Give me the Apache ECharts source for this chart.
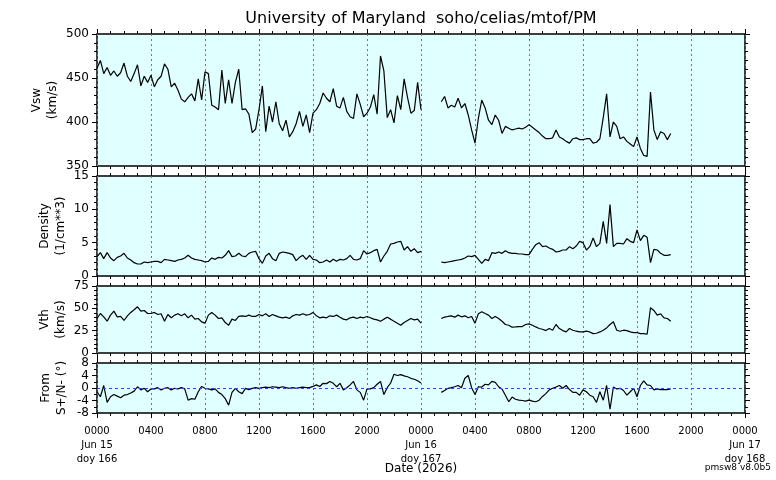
<!DOCTYPE html>
<html>
<head>
<meta charset="utf-8">
<script src="https://cdn.jsdelivr.net/npm/echarts@6/dist/echarts.min.js"></script>
<style>
  html, body { margin: 0; padding: 0; background: #fff; }
  #main { width: 776px; height: 480px; }
</style>
</head>
<body>
<div id="main"></div>
<script>
// time grid: hours since 0000 Jun 15, one sample every 15 min
const seg1Start = 0;
const seg2Start = 25.5;
const step = 0.25;

const xTickLabels = ['0000\nJun 15\ndoy 166', '0400', '0800', '1200', '1600', '2000',
  '0000\nJun 16\ndoy 167', '0400', '0800', '1200', '1600', '2000', '0000\nJun 17\ndoy 168'];

// solar wind speed (km/s)
const vsw1 = [461,470,455,462,453,458,452,456,467,452,
  446,455,465,441,452,445,453,440,448,452,
  466,460,440,444,436,426,423,428,432,424,
  449,425,457,455,419,417,414,459,421,448,
  421,445,460,414,415,409,388,392,414,441,
  389,418,400,423,398,390,402,383,389,398,
  412,395,408,388,410,414,421,433,427,423,
  438,418,416,428,412,406,404,432,420,406,
  410,417,431,409,475,458,405,414,399,430,
  414,449,428,410,413,445,414];
const vsw2 = [423,429,416,419,417,427,416,421,408,391,
  376,404,425,416,402,397,408,402,387,395,
  393,391,392,393,392,394,397,394,391,388,
  384,381,381,382,391,383,381,378,376,381,
  382,380,380,381,381,376,377,381,405,432,
  383,400,395,381,383,378,375,372,383,370,
  362,361,434,391,380,389,387,380,387];

// proton density (1/cm**3)
const dens1 = [2.9,3.5,2.6,3.5,2.7,2.3,2.8,3.0,3.4,2.7,
  2.4,2.0,1.8,1.8,2.1,2.0,2.1,2.2,2.2,2.0,
  2.5,2.4,2.3,2.2,2.4,2.5,2.7,3.1,2.7,2.5,
  2.4,2.3,2.1,2.2,2.7,2.5,2.8,2.7,3.1,3.8,
  2.9,3.0,3.4,3.0,2.9,3.4,3.6,3.7,2.6,1.9,
  3.0,3.4,2.6,2.3,3.4,3.6,3.5,3.4,3.2,2.3,
  2.8,3.1,2.5,3.1,2.5,2.4,2.0,2.1,2.4,2.1,
  2.5,2.2,2.5,2.4,2.6,3.1,2.5,2.4,2.6,3.8,
  3.3,3.5,3.8,4.0,2.1,3.0,3.7,4.8,4.9,5.1,
  5.2,3.9,4.4,3.7,4.1,3.5,3.7];
const dens2 = [2.1,2.0,2.1,2.2,2.3,2.4,2.5,2.7,3.0,2.9,
  3.1,2.5,1.9,2.5,2.3,3.5,3.4,3.6,3.4,3.8,
  3.5,3.4,3.4,3.3,3.3,3.2,3.2,4.0,4.7,5.0,
  4.4,4.5,4.2,4.0,3.6,3.7,3.9,3.9,4.4,4.1,
  4.5,5.2,5.0,3.9,4.4,5.7,4.4,4.9,8.2,4.9,
  10.7,4.4,4.9,4.9,4.8,5.6,5.2,5.0,6.9,5.3,
  6.1,5.8,2.0,4.0,3.9,3.4,3.1,3.1,3.2];

// thermal speed (km/s)
const vth1 = [38.6,44.2,40.5,35.6,42.4,46.9,40.5,40.9,36.4,41.6,
  45.4,48.4,51.7,46.9,47.6,44.2,44.2,45.4,43.1,43.9,
  35.6,43.1,39.4,42.4,43.9,41.6,43.9,39.4,42.4,37.9,
  38.6,34.9,33.4,42.4,45.4,42.4,38.6,39.4,34.1,31.1,
  37.9,36.4,40.9,41.6,40.9,42.4,40.9,40.9,43.1,41.6,
  43.9,40.9,43.1,41.6,40.1,39.4,40.1,38.6,41.6,43.1,
  42.4,43.9,42.4,43.1,45.4,41.6,39.4,40.1,39.4,41.6,
  40.9,42.4,40.1,37.9,37.1,39.4,40.1,38.6,40.1,39.4,
  40.9,39.4,37.9,37.1,35.6,37.9,40.1,37.9,35.6,33.4,
  31.1,34.1,36.4,38.6,37.1,37.9,33.4];
const vth2 = [38.6,40.1,40.9,41.6,40.1,42.4,40.5,41.6,39.4,40.9,
  33.4,43.9,46.1,44.2,42.4,38.6,40.9,38.6,35.6,31.9,
  31.1,28.9,29.2,29.6,29.6,31.9,32.6,31.1,29.2,27.4,
  26.6,25.1,27.4,25.5,31.9,27.4,25.1,23.6,27.4,25.5,
  24.4,23.6,23.6,24.4,23.6,21.7,22.1,23.6,25.5,28.1,
  31.9,34.9,25.5,24.4,25.5,25.1,23.6,22.9,22.9,21.7,
  21.7,21.0,50.6,47.6,42.4,43.9,39.4,38.6,35.6];

// flow direction, S+/N- (deg)
const ang1 = [-1.2,-2.8,0.8,-4.6,-2.8,-2.1,-2.6,-3.1,-2.3,-2.1,
  -1.6,-1.0,0.4,-0.6,-0.1,-1.2,-0.3,-0.3,0.1,-0.6,
  -0.1,0.1,-0.6,-0.1,-0.3,0.1,-0.3,-3.9,-3.4,-3.6,
  -1.2,0.5,-0.1,-0.3,-0.6,-0.3,-1.4,-2.1,-3.4,-5.5,
  -1.4,-0.1,-1.2,-1.8,-0.1,-0.5,-0.1,0.1,-0.1,0.1,
  0.3,0.1,0.4,0.3,0.1,0.4,0.1,-0.1,0.1,-0.1,
  0.1,0.3,0.1,0.1,0.5,1.0,0.5,1.5,1.4,2.1,
  1.5,0.4,1.5,-0.6,0.1,1.0,2.1,-0.6,-1.4,-3.9,
  -0.3,-0.3,0.1,1.2,2.1,-2.1,0.1,1.6,4.4,4.0,
  4.3,3.9,3.6,3.1,2.8,2.3,1.6];
const ang2 = [-1.4,-0.8,-0.1,0.1,0.4,0.8,0.1,3.1,4.0,0.1,
  -2.1,0.4,0.3,1.2,1.0,2.1,1.8,0.4,-0.3,-2.3,
  -4.4,-2.9,-3.6,-3.9,-4.0,-4.2,-3.9,-4.2,-4.4,-3.9,
  -2.7,-1.8,-0.6,-0.1,0.3,0.8,-0.1,0.8,-0.5,-1.4,
  -1.4,-2.3,-0.6,-1.2,-2.3,-2.8,-4.6,-1.2,-3.9,0.8,
  -6.8,0.3,-0.3,-0.1,-0.8,-2.3,-1.2,-0.1,-2.8,0.8,
  2.3,1.0,0.8,-0.6,-0.3,-0.5,-0.5,-0.5,-0.3];

const pairs = (start, vals) => vals.map((v, i) => [start + i * step, v]);

// panel layout (nameX = centre of the two-line rotated axis title)
const panels = [
  { top: 34,  height: 132, min: 350, max: 500, interval: 50, minor: 5, name: 'Vsw\n(km/s)', nameX: 45, s1: vsw1, s2: vsw2 },
  { top: 176, height: 100, min: 0,   max: 15,  interval: 5,  minor: 5, name: 'Density\n(1/cm**3)', nameX: 53, s1: dens1, s2: dens2 },
  { top: 286, height: 67,  min: 0,   max: 75,  interval: 25, minor: 5, name: 'Vth\n(km/s)', nameX: 53, s1: vth1, s2: vth2 },
  { top: 363, height: 50,  min: -8,  max: 8,   interval: 4,  minor: 2, name: 'From\nS+/N- (°)', nameX: 54, s1: ang1, s2: ang2 }
];

const chart = echarts.init(document.getElementById('main'));
const tickStyle = { color: '#000', width: 1 };

const grids = [], xAxes = [], yAxes = [], series = [], names = [];
panels.forEach((p, i) => {
  grids.push({
    left: 97, width: 648, top: p.top, height: p.height,
    show: true, backgroundColor: '#e0ffff', borderColor: '#000', borderWidth: 1.5,
    outerBoundsMode: 'none'
  });
  const last = i === panels.length - 1;
  ['bottom', 'top'].forEach(pos => {
    xAxes.push({
      type: 'value', gridIndex: i, position: pos, min: 0, max: 48, interval: 4,
      axisLine: { show: false, onZero: false },
      axisTick: { show: true, length: 5, lineStyle: tickStyle },
      minorTick: { show: true, splitNumber: 4, length: 3, lineStyle: tickStyle },
      splitLine: { show: pos === 'bottom', lineStyle: { color: '#777', type: [2, 3], width: 1 } },
      axisLabel: {
        show: last && pos === 'bottom', fontSize: 10, lineHeight: 14, color: '#000', margin: 11,
        showMinLabel: true, showMaxLabel: true,
        formatter: v => xTickLabels[Math.round(v / 4)]
      },
      name: last && pos === 'bottom' ? 'Date (2026)' : '',
      nameLocation: 'middle', nameGap: 50, nameMoveOverlap: false,
      nameTextStyle: { fontSize: 12, color: '#000' }
    });
  });
  ['left', 'right'].forEach(pos => {
    yAxes.push({
      type: 'value', gridIndex: i, position: pos, min: p.min, max: p.max, interval: p.interval,
      axisLine: { show: false, onZero: false },
      axisTick: { show: true, length: 5, lineStyle: tickStyle },
      minorTick: { show: true, splitNumber: p.minor, length: 3, lineStyle: tickStyle },
      splitLine: { show: false },
      axisLabel: { show: pos === 'left', fontSize: 12, color: '#000', margin: 8 }
    });
  });
  names.push({
    type: 'text', x: p.nameX, y: p.top + p.height / 2, rotation: Math.PI / 2,
    style: {
      text: p.name, fontSize: 12, lineHeight: 16, fill: '#000', fontFamily: 'DejaVu Sans',
      align: 'center', verticalAlign: 'middle'
    }
  });
  [p.s1, p.s2].forEach((vals, k) => {
    const s = {
      type: 'line', xAxisIndex: 2 * i, yAxisIndex: 2 * i,
      data: pairs(k === 0 ? seg1Start : seg2Start, vals),
      showSymbol: false, symbol: 'none', smooth: false, animation: false,
      lineStyle: { color: '#000', width: 1.2 }
    };
    if (last && k === 0) {
      s.markLine = {
        silent: true, symbol: ['none', 'none'], label: { show: false },
        lineStyle: { color: '#3344ff', type: [3, 3], width: 1 },
        data: [{ yAxis: 0 }]
      };
    }
    series.push(s);
  });
});

chart.setOption({
  animation: false,
  textStyle: { fontFamily: 'DejaVu Sans' },
  title: {
    text: 'University of Maryland  soho/celias/mtof/PM',
    left: 421, top: 11, textAlign: 'center', padding: 0,
    textStyle: { fontSize: 16, fontWeight: 'normal', color: '#000' }
  },
  graphic: names.concat([{
    type: 'text', right: 5, top: 463,
    style: { text: 'pmsw8 v8.0b5', fontSize: 9, fill: '#000', fontFamily: 'DejaVu Sans' }
  }]),
  grid: grids,
  xAxis: xAxes,
  yAxis: yAxes,
  series: series
});
</script>
</body>
</html>
